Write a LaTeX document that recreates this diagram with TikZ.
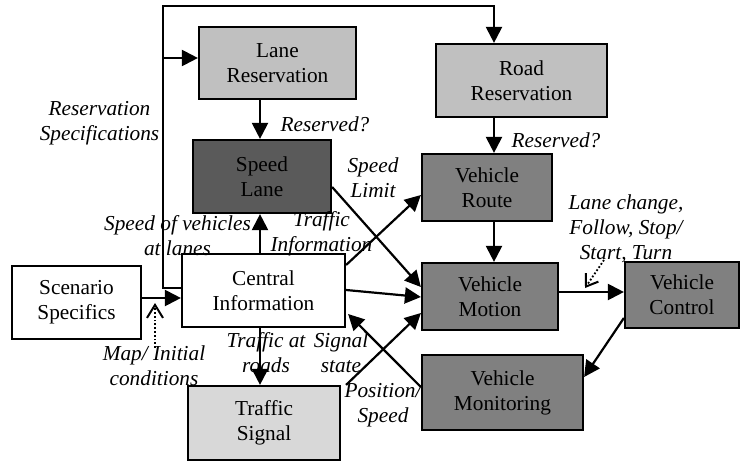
\documentclass[tikz,border=0pt]{standalone}
\usepackage{fontspec}
\setmainfont{Liberation Serif}
\usetikzlibrary{arrows.meta}
\definecolor{resfill}{RGB}{192,192,192}
\definecolor{lanefill}{RGB}{90,90,90}
\definecolor{vehfill}{RGB}{128,128,128}
\definecolor{sigfill}{RGB}{216,216,216}
\begin{document}
\begin{tikzpicture}[x=1pt,y=-1pt,
  box/.style={draw=black, line width=2.2pt, align=center, inner sep=0pt,
    font=\fontsize{21.3}{25}\selectfont},
  arr/.style={line width=2.2pt, -{Triangle[length=16pt,width=16pt]}},
  hint/.style={line width=1.8pt, dotted,
    -{Straight Barb[length=13pt,width=16pt,line width=2pt]}},
  lbl/.style={font=\fontsize{21.3}{25}\selectfont\itshape, align=center, inner sep=0pt}
]
\useasboundingbox (0,0) rectangle (745,463);

% blocks
\node[box, fill=resfill, minimum width=157pt, minimum height=72pt] (laneres) at (277.5,63) {Lane\\Reservation};
\node[box, fill=lanefill, minimum width=138pt, minimum height=73pt] (speedlane) at (262,176.5) {Speed\\Lane};
\node[box, fill=resfill, minimum width=171pt, minimum height=73pt] (roadres) at (521.5,80.5) {Road\\Reservation};
\node[box, fill=vehfill, minimum width=130pt, minimum height=67pt] (vroute) at (487,187.5) {Vehicle\\Route};
\node[box, fill=white, minimum width=129pt, minimum height=73pt] (scenario) at (76.5,302.5) {Scenario\\Specifics};
\node[box, fill=white, minimum width=163pt, minimum height=73pt] (central) at (263.5,290.5) {Central\\Information};
\node[box, fill=sigfill, minimum width=152pt, minimum height=74pt] (tsignal) at (264,423) {Traffic\\Signal};
\node[box, fill=vehfill, minimum width=136pt, minimum height=67pt] (vmotion) at (490,296.5) {Vehicle\\Motion};
\node[box, fill=vehfill, minimum width=114pt, minimum height=66pt] (vcontrol) at (682,295) {Vehicle\\Control};
\node[box, fill=vehfill, minimum width=161pt, minimum height=75pt] (vmonitor) at (502.5,392.5) {Vehicle\\Monitoring};

% labels
\node[lbl] (lresspec) at (99.5,123.5) {Reservation\\Specifications};
\node[lbl] (lreserved1) at (325,124) {Reserved?};
\node[lbl] (lreserved2) at (556,140) {Reserved?};
\node[lbl] (lspeedlim) at (373,178) {Speed\\Limit};
\node[lbl] (lspeedveh) at (177.5,236) {Speed of vehicles\\at lanes};
\node[lbl] (ltrafinfo) at (321.5,233.5) {Traffic\\Information};
\node[lbl] (ltrafroad) at (266,352.5) {Traffic at\\roads};
\node[lbl] (lsignal) at (341,352.5) {Signal\\state};
\node[lbl] (lpos) at (383,405) {Position/\\Speed};
\node[lbl] (lmap) at (154,365.5) {Map/ Initial\\conditions};
\node[lbl] (lmanoeuvre) at (626,229) {Lane change,\\Follow, Stop/\\Start, Turn};

% routing points
\coordinate (loopbot) at (163,288);
\coordinate (looptl) at (163,6);
\coordinate (looptr) at (494,6);
\coordinate (branch) at (163,58);
\coordinate (colA) at (260,0);
\coordinate (colB) at (494,0);
\coordinate (scin) at (0,298);
\coordinate (mapfoot) at (155,348);
\coordinate (maptip) at (155,303);
\coordinate (lcfoot) at (604,260);
\coordinate (lctip) at (585,288);

% reservation specifications loop
\draw[arr] (central.west |- loopbot) -- (loopbot) -- (looptl) -- (looptr) -- (roadres.north -| looptr);
\draw[arr] (branch) -- (laneres.west |- branch);

% straight flows
\draw[arr] (scenario.east |- scin) -- (central.west |- scin);
\draw[arr] (laneres.south -| colA) -- (speedlane.north -| colA);
\draw[arr] (central.north -| colA) -- (speedlane.south -| colA);
\draw[arr] (central.south -| colA) -- (tsignal.north -| colA);
\draw[arr] (roadres.south -| colB) -- (vroute.north -| colB);
\draw[arr] (vroute.south -| colB) -- (vmotion.north -| colB);
\draw[arr] (vmotion.east |- 0,292) -- (vcontrol.west |- 0,292);

% diagonal flows
\draw[arr] (speedlane.east |- 0,187) -- (vmotion.west |- 0,287);
\draw[arr] (central.east |- 0,265) -- (vroute.west |- 0,195);
\draw[arr] (central.east |- 0,290) -- (vmotion.west |- 0,297);
\draw[arr] ([xshift=5pt]tsignal.north east) -- (vmotion.west |- 0,313);
\draw[arr] (vmonitor.west |- 0,387) -- ([xshift=2pt]central.east |- 0,314);
\draw[arr] (vcontrol.west |- 0,318) -- (vmonitor.east |- 0,377);

% external inputs
\draw[hint] (mapfoot) -- (maptip);
\draw[hint, -{Straight Barb[length=11pt,width=15pt,line width=2pt]}] (lcfoot) -- (lctip);
\end{tikzpicture}
\end{document}
